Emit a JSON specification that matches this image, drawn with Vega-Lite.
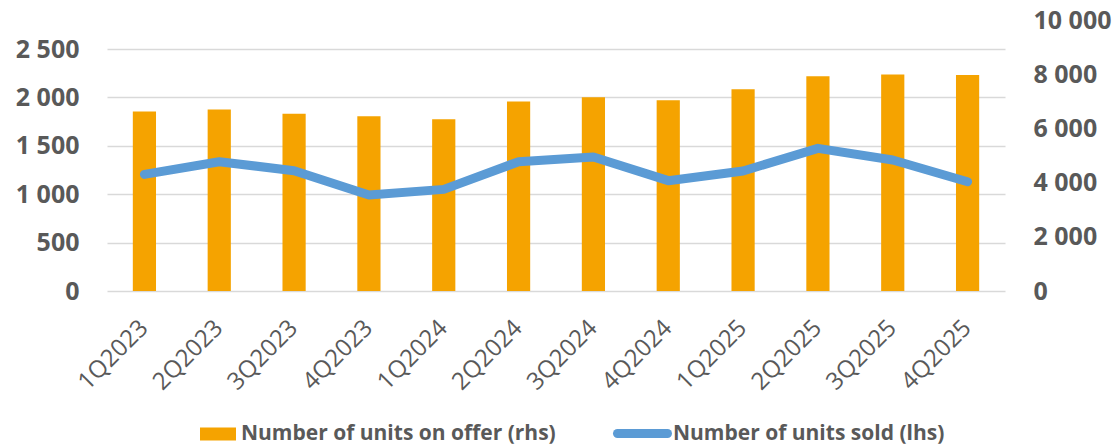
{
  "$schema": "https://vega.github.io/schema/vega-lite/v6.json",
  "width": 898,
  "height": 271,
  "autosize": "none",
  "padding": {"left": 107, "top": 20, "right": 111, "bottom": 155},
  "background": "white",
  "config": {
    "view": {"stroke": null},
    "font": "Open Sans"
  },
  "data": {
    "values": [
      {"quarter": "1Q2023", "offer": 6620, "sold": 1205},
      {"quarter": "2Q2023", "offer": 6700, "sold": 1336},
      {"quarter": "3Q2023", "offer": 6545, "sold": 1243},
      {"quarter": "4Q2023", "offer": 6445, "sold": 992},
      {"quarter": "1Q2024", "offer": 6335, "sold": 1050},
      {"quarter": "2Q2024", "offer": 6990, "sold": 1336},
      {"quarter": "3Q2024", "offer": 7150, "sold": 1385},
      {"quarter": "4Q2024", "offer": 7035, "sold": 1140},
      {"quarter": "1Q2025", "offer": 7445, "sold": 1240},
      {"quarter": "2Q2025", "offer": 7925, "sold": 1474},
      {"quarter": "3Q2025", "offer": 7990, "sold": 1353},
      {"quarter": "4Q2025", "offer": 7975, "sold": 1129}
    ]
  },
  "encoding": {
    "x": {
      "field": "quarter",
      "type": "nominal",
      "sort": null,
      "scale": {"paddingInner": 0.69, "paddingOuter": 0.345},
      "axis": {
        "title": null,
        "domain": false,
        "ticks": false,
        "labelAngle": -45,
        "labelAlign": "right",
        "labelBaseline": "middle",
        "labelPadding": 33,
        "labelFont": "Open Sans",
        "labelFontSize": 24,
        "labelFontWeight": "normal",
        "labelColor": "#595959"
      }
    }
  },
  "layer": [
    {
      "mark": {"type": "bar"},
      "encoding": {
        "y": {
          "field": "offer",
          "type": "quantitative",
          "scale": {"domain": [0, 10000], "nice": false},
          "axis": {
            "orient": "right",
            "title": null,
            "values": [0, 2000, 4000, 6000, 8000, 10000],
            "format": ",d",
            "labelExpr": "replace(datum.label, ',', ' ')",
            "grid": false,
            "domain": false,
            "ticks": false,
            "labelPadding": 28,
            "labelFont": "Open Sans",
            "labelFontSize": 25,
            "labelFontWeight": "bold",
            "labelColor": "#595959"
          }
        },
        "fill": {
          "datum": "Number of units on offer (rhs)",
          "type": "nominal",
          "scale": {"range": ["#F5A300"]},
          "legend": {
            "title": null,
            "orient": "none",
            "legendX": 93,
            "legendY": 396,
            "symbolType": "M-1,-0.361H1V0.361H-1Z",
            "symbolSize": 1296,
            "symbolStrokeWidth": 0,
            "labelOffset": 5,
            "labelFont": "Open Sans",
            "labelFontSize": 21,
            "labelFontWeight": "bold",
            "labelColor": "#595959",
            "labelLimit": 600
          }
        }
      }
    },
    {
      "mark": {"type": "line", "strokeWidth": 9, "strokeCap": "round", "strokeJoin": "round"},
      "encoding": {
        "y": {
          "field": "sold",
          "type": "quantitative",
          "scale": {"domain": [0, 2800], "nice": false},
          "axis": {
            "orient": "left",
            "title": null,
            "values": [0, 500, 1000, 1500, 2000, 2500],
            "format": ",d",
            "labelExpr": "replace(datum.label, ',', ' ')",
            "grid": true,
            "gridColor": "#D9D9D9",
            "gridWidth": 1.5,
            "domain": false,
            "ticks": false,
            "labelPadding": 28,
            "labelFont": "Open Sans",
            "labelFontSize": 25,
            "labelFontWeight": "bold",
            "labelColor": "#595959"
          }
        },
        "stroke": {
          "datum": "Number of units sold (lhs)",
          "type": "nominal",
          "scale": {"range": ["#5B9BD5"]},
          "legend": {
            "title": null,
            "orient": "none",
            "legendX": 506,
            "legendY": 384,
            "symbolType": "stroke",
            "symbolSize": 2500,
            "symbolStrokeWidth": 9,
            "labelOffset": 1,
            "labelFont": "Open Sans",
            "labelFontSize": 21,
            "labelFontWeight": "bold",
            "labelColor": "#595959",
            "labelLimit": 600,
            "encode": {"symbols": {"update": {"strokeCap": {"value": "round"}}}}
          }
        }
      }
    }
  ],
  "resolve": {"scale": {"y": "independent"}}
}
